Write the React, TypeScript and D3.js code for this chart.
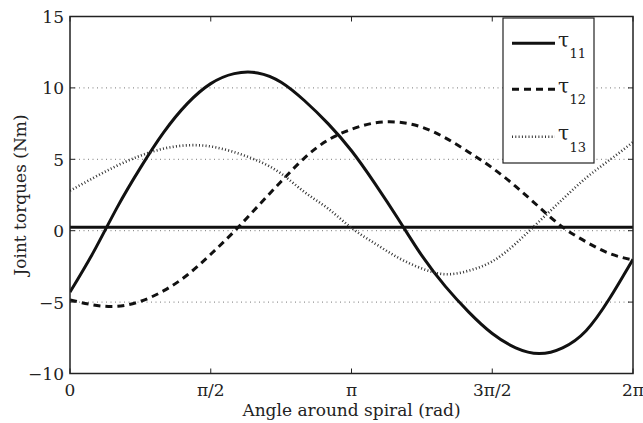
import React from "react";
import * as d3 from "d3";

// x positions in units of pi/12 (0 .. 2pi)
const angleTwelfths = [0, 1, 2, 3, 4, 5, 6, 7, 8, 9, 10, 11, 12, 13, 14, 15, 16, 17, 18, 19, 20, 21, 22, 23, 24];

const tau11 = [-4.3, -1.5, 1.6, 4.4, 6.9, 8.9, 10.3, 11.0, 11.05, 10.4, 9.1, 7.5, 5.6, 3.3, 0.8, -1.75, -3.9, -5.7, -7.2, -8.2, -8.6, -8.2, -7.0, -4.75, -2.0];
const tau12 = [-4.85, -5.2, -5.3, -4.95, -4.2, -3.1, -1.65, -0.05, 1.7, 3.45, 5.1, 6.35, 7.1, 7.55, 7.6, 7.25, 6.5, 5.5, 4.4, 3.1, 1.65, 0.25, -0.78, -1.6, -2.05];
const tau13 = [2.8, 3.7, 4.55, 5.25, 5.75, 5.98, 5.9, 5.5, 4.9, 4.0, 2.7, 1.55, 0.2, -0.9, -1.9, -2.65, -3.05, -2.8, -2.15, -0.9, 0.65, 2.2, 3.7, 4.95, 6.2];
const offsetLine = [0.25, 0.25];

const yTicks = [-10, -5, 0, 5, 10, 15];
const yGrid = [-5, 0, 5, 10];
const xTickMultiples = [0, 0.5, 1, 1.5, 2];
const xTickLabels = ["0", "π/2", "π", "3π/2", "2π"];
const legendLabels = ["11", "12", "13"];

const W = 643;
const H = 423;
const L = 70, R = 633, T = 16.5, B = 373.5;

export default function App() {
  const x = d3.scaleLinear().domain([0, 2 * Math.PI]).range([L, R]);
  const y = d3.scaleLinear().domain([-10, 15]).range([B, T]);
  const angles = angleTwelfths.map((k) => (k * Math.PI) / 12);
  const line = d3
    .line<number>()
    .x((_, i) => x(angles[i]))
    .y((d) => y(d))
    .curve(d3.curveNatural);
  const flat = d3
    .line<number>()
    .x((_, i) => x(i === 0 ? 0 : 2 * Math.PI))
    .y((d) => y(d));

  const font = "DejaVu Serif";
  const styles = [
    { dash: "none", width: 3, color: "#111" },
    { dash: "7,5", width: 3, color: "#111" },
    { dash: "1,2.3", width: 2.6, color: "#333" },
  ];
  const series = [tau11, tau12, tau13];
  const legX = 503, legY = 18, legW = 91, legH = 145;
  const legRows = [43.3, 89.3, 136.7];

  return (
    <svg width={W} height={H} style={{ position: "absolute", left: 0, top: 0, background: "#fff" }}>
      <defs>
        <clipPath id="plotclip">
          <rect x={L} y={T} width={R - L} height={B - T} />
        </clipPath>
      </defs>
      <rect x={0} y={0} width={W} height={H} fill="#fff" />
      {yGrid.map((v) => (
        <line key={"g" + v} x1={L} x2={R} y1={y(v)} y2={y(v)} stroke="#777" strokeWidth={1} strokeDasharray="1,3.5" />
      ))}
      <g clipPath="url(#plotclip)">
        <path d={flat(offsetLine) || ""} fill="none" stroke="#111" strokeWidth={3} />
        {series.map((s, i) => (
          <path
            key={i}
            d={line(s) || ""}
            fill="none"
            stroke={styles[i].color}
            strokeWidth={styles[i].width}
            strokeDasharray={styles[i].dash}
          />
        ))}
      </g>
      <rect x={L} y={T} width={R - L} height={B - T} fill="none" stroke="#222" strokeWidth={1.5} />
      {yTicks.map((v) => (
        <g key={"yt" + v}>
          <line x1={L} x2={L + 5} y1={y(v)} y2={y(v)} stroke="#222" strokeWidth={1} />
          <line x1={R} x2={R - 5} y1={y(v)} y2={y(v)} stroke="#222" strokeWidth={1} />
          <text x={L - 6} y={y(v) + 6.5} textAnchor="end" fontSize={17} fill="#222" fontFamily={font}>
            {v < 0 ? "−" + Math.abs(v) : String(v)}
          </text>
        </g>
      ))}
      {xTickMultiples.map((m, i) => (
        <g key={"xt" + i}>
          <line x1={x(m * Math.PI)} x2={x(m * Math.PI)} y1={B} y2={B - 5} stroke="#222" strokeWidth={1} />
          <line x1={x(m * Math.PI)} x2={x(m * Math.PI)} y1={T} y2={T + 5} stroke="#222" strokeWidth={1} />
          <text x={x(m * Math.PI)} y={B + 22} textAnchor="middle" fontSize={17} fill="#222" fontFamily={font}>
            {xTickLabels[i]}
          </text>
        </g>
      ))}
      <text x={(L + R) / 2} y={416} textAnchor="middle" fontSize={17} fill="#222" fontFamily={font}>
        Angle around spiral (rad)
      </text>
      <text
        transform={`translate(26,${(T + B) / 2}) rotate(-90)`}
        textAnchor="middle"
        fontSize={17}
        fill="#222"
        fontFamily={font}
      >
        Joint torques (Nm)
      </text>
      <rect x={legX} y={legY} width={legW} height={legH} fill="#fff" stroke="#222" strokeWidth={1.2} />
      {legendLabels.map((lab, i) => (
        <g key={"lg" + i}>
          <line
            x1={512}
            x2={555}
            y1={legRows[i]}
            y2={legRows[i]}
            stroke={styles[i].color}
            strokeWidth={styles[i].width}
            strokeDasharray={styles[i].dash}
          />
          <text x={558} y={legRows[i] + 3.5} fontSize={20} fill="#222" fontFamily={font}>
            τ
            <tspan dy={11.5} dx={0.5} fontSize={13}>
              {lab}
            </tspan>
          </text>
        </g>
      ))}
    </svg>
  );
}
